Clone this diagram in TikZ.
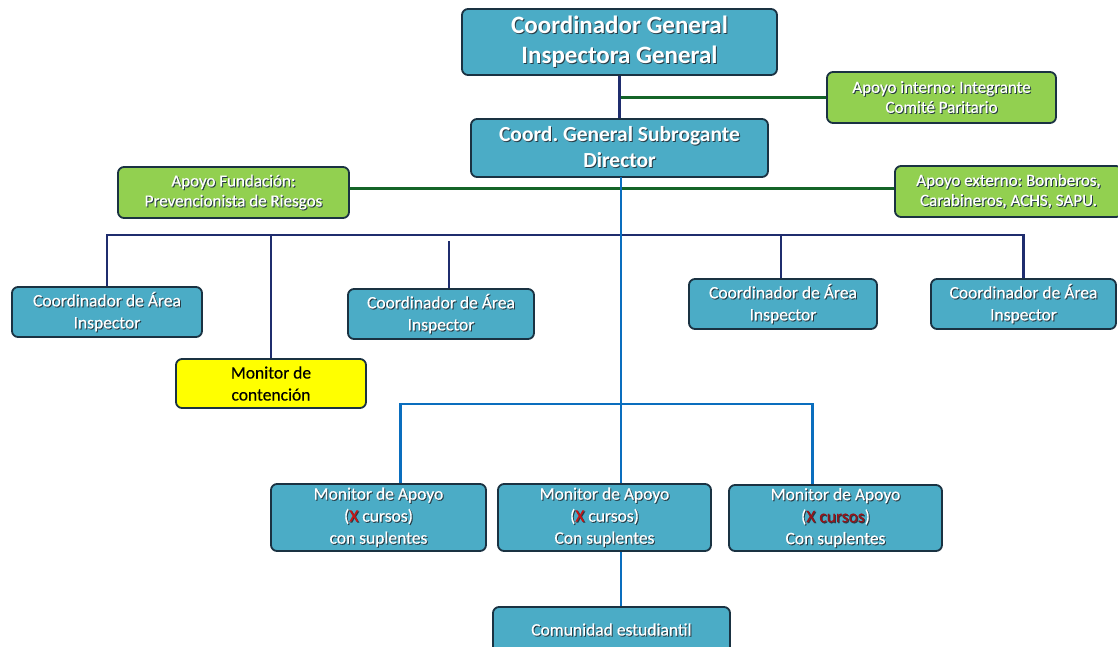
\documentclass[tikz,border=0pt]{standalone}
\usepackage{fontspec}
\setmainfont{Carlito}
\newfontfamily\boxfont{Carlito}[FakeBold=0.3]
\usepackage{tikz}
\usetikzlibrary{calc, positioning}
\frenchspacing

\definecolor{boxteal}{RGB}{75,172,198}
\definecolor{boxgreen}{RGB}{146,208,80}
\definecolor{boxyellow}{RGB}{255,255,0}
\definecolor{boxedge}{RGB}{26,50,66}
\definecolor{navyline}{RGB}{31,45,110}
\definecolor{blueline}{RGB}{10,110,190}
\definecolor{greenline}{RGB}{20,100,40}
\definecolor{xred}{RGB}{200,20,20}
\definecolor{xdarkred}{RGB}{150,20,25}
\definecolor{txtshadow}{RGB}{40,60,70}

% white text with a small dark shadow
\newif\ifinshadow
\newcommand{\tshadow}[1]{\leavevmode\rlap{\inshadowtrue\kern1pt\raisebox{-1pt}{\color{txtshadow}#1}}#1}
\newcommand{\redtext}[2]{\ifinshadow#2\else\textcolor{#1}{#2}\fi}

\begin{document}
\begin{tikzpicture}[x=1pt, y=-1pt, >=latex]

    % Define styles
    \tikzstyle{orgbox} = [rectangle, rounded corners=6pt, draw=boxedge, line width=1.8pt, fill=boxteal, text=white, align=center, inner sep=0pt, font=\boxfont\fontsize{17.5}{22}\selectfont]
    \tikzstyle{headbox} = [orgbox, font=\bfseries\fontsize{25}{30}\selectfont]
    \tikzstyle{subbox} = [orgbox, font=\bfseries\fontsize{21.5}{26}\selectfont]
    \tikzstyle{supportbox} = [orgbox, fill=boxgreen, font=\boxfont\fontsize{17}{20}\selectfont]
    \tikzstyle{monitorbox} = [orgbox, fill=boxyellow, text=black]
    \tikzstyle{navy} = [draw=navyline, line width=2.2pt]
    \tikzstyle{blue} = [draw=blueline, line width=2.2pt]
    \tikzstyle{green} = [draw=greenline, line width=2.2pt]

    \useasboundingbox (0,0) rectangle (1118,646);

    % Nodes
    \node (coord) [headbox, minimum width=315pt, minimum height=66pt] at (619.5,42) {\tshadow{Coordinador General}\\\tshadow{Inspectora General}};
    \node (interno) [supportbox, minimum width=229pt, minimum height=51pt] at (941.5,97.5) {\tshadow{Apoyo interno: Integrante}\\\tshadow{Comité Paritario}};
    \node (subr) [subbox, minimum width=297pt, minimum height=58pt] at (619.5,148) {\tshadow{Coord. General Subrogante}\\\tshadow{Director}};
    \node (fund) [supportbox, minimum width=231pt, minimum height=51pt] at (233.5,192.5) {\tshadow{Apoyo Fundación:}\\\tshadow{Prevencionista de Riesgos}};
    \node (ext) [supportbox, minimum width=227pt, minimum height=51pt] at (1008.5,191.5) {\tshadow{Apoyo externo: Bomberos,}\\\tshadow{Carabineros, ACHS, SAPU.}};

    \node (area1) [orgbox, minimum width=190pt, minimum height=50pt] at (107,312) {\tshadow{Coordinador de Área}\\\tshadow{Inspector}};
    \node (area2) [orgbox, minimum width=186pt, minimum height=50pt] at (441,314) {\tshadow{Coordinador de Área}\\\tshadow{Inspector}};
    \node (area3) [orgbox, minimum width=188pt, minimum height=50pt] at (783,304) {\tshadow{Coordinador de Área}\\\tshadow{Inspector}};
    \node (area4) [orgbox, minimum width=185pt, minimum height=50pt] at (1023.5,304) {\tshadow{Coordinador de Área}\\\tshadow{Inspector}};
    \node (cont) [monitorbox, minimum width=190pt, minimum height=49pt] at (271,383.5) {Monitor de\\contención};

    \node (ma1) [orgbox, minimum width=215pt, minimum height=67pt] at (378.5,517.5) {\tshadow{Monitor de Apoyo}\\\tshadow{(\redtext{xred}{X} cursos)}\\\tshadow{con suplentes}};
    \node (ma2) [orgbox, minimum width=213pt, minimum height=67pt] at (604.5,517.5) {\tshadow{Monitor de Apoyo}\\\tshadow{(\redtext{xred}{X} cursos)}\\\tshadow{Con suplentes}};
    \node (ma3) [orgbox, minimum width=213pt, minimum height=66pt] at (835.5,518) {\tshadow{Monitor de Apoyo}\\\tshadow{(\redtext{xdarkred}{X cursos})}\\\tshadow{Con suplentes}};
    \node (com) [orgbox, minimum width=237pt, minimum height=46pt] at (611.5,630) {\tshadow{Comunidad estudiantil}};

    % Coordinates for the two bars
    \coordinate (busA) at (0,235);
    \coordinate (busB) at (0,404);
    \coordinate (spine) at (621,177);

    % Lines
    \draw [green] (coord.south |- interno.west) -- (interno.west);
    \draw [green] ([yshift=4pt]fund.east) -- ([yshift=4pt]fund.east -| ext.west);
    \draw [navy] (coord.south) -- (subr.north);
    \draw [navy] (area1.north) -- (area1.north |- busA) -- (area4.north |- busA) -- (area4.north);
    \draw [navy] ([xshift=8pt]area2.north) -- ([xshift=8pt,yshift=-6pt]area2.north |- busA);
    \draw [navy] ([xshift=-2pt]area3.north) -- ([xshift=-2pt]area3.north |- busA);
    \draw [navy] (cont.north) -- (cont.north |- busA);
    \draw [blue] (spine) -- (spine |- ma2.north);
    \draw [blue] ([xshift=22pt]ma1.north) -- ([xshift=22pt]ma1.north |- busB) -- ([xshift=-23pt]ma3.north |- busB) -- ([xshift=-23pt]ma3.north);
    \draw [blue] (spine |- ma2.south) -- (spine |- com.north);

\end{tikzpicture}
\end{document}
